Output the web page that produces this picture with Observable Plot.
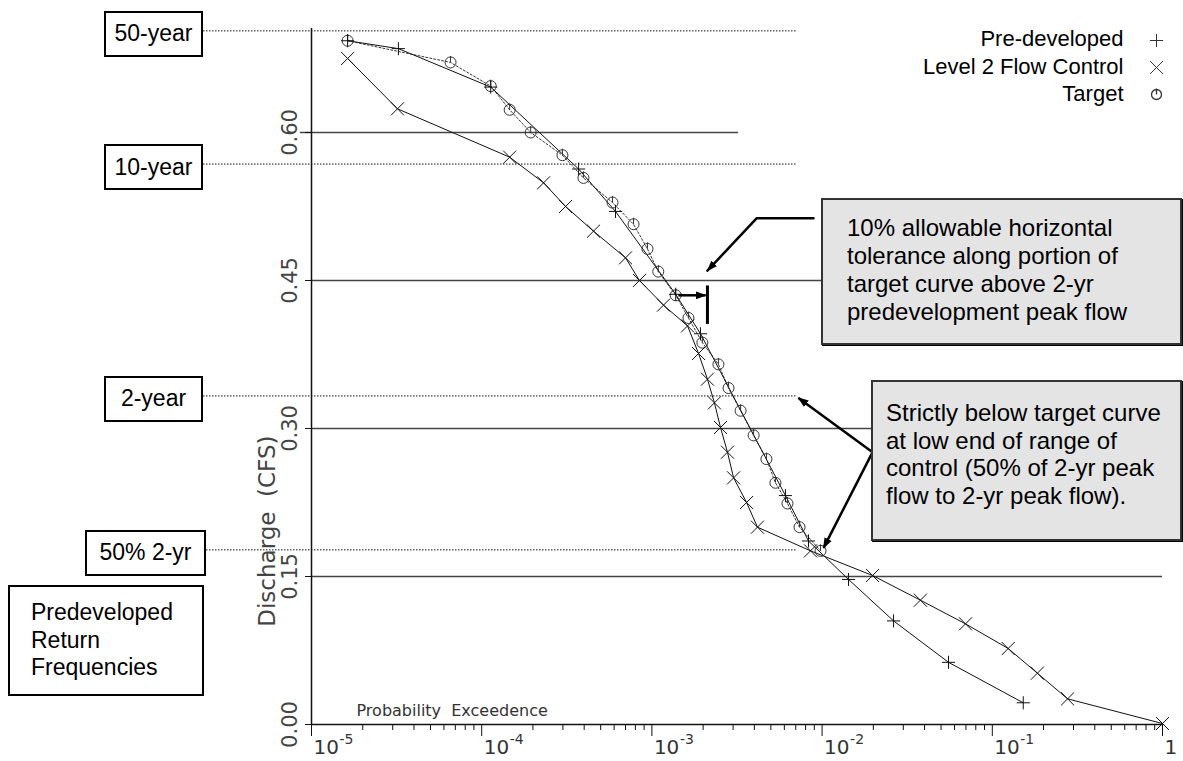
<!DOCTYPE html>
<html>
<head>
<meta charset="utf-8">
<script src="https://cdn.jsdelivr.net/npm/d3@7"></script>
<script src="https://cdn.jsdelivr.net/npm/@observablehq/plot@0.6"></script>
<style>
  html, body { margin: 0; padding: 0; background: #fff; }
  #wrap { position: relative; width: 1183px; height: 761px; overflow: hidden; }
  #wrap svg { position: absolute; left: 0; top: 0; }
  .lbox { position: absolute; box-sizing: border-box; border: 2.5px solid #000; background: #fff;
          font: 23px "Liberation Sans", Arial, sans-serif; color: #000;
          display: flex; align-items: center; justify-content: center; white-space: nowrap; }
  .cbox { position: absolute; box-sizing: border-box; border: 2px solid #333; background: #e4e4e4;
          box-shadow: 1px 1px 0 #000;
          font: 24px "Liberation Sans", Arial, sans-serif; color: #000; white-space: nowrap; }
</style>
</head>
<body>
<div id="wrap"></div>
<script>
// ---- data ----
const seriesNames = ["Pre-developed", "Level 2 Flow Control", "Target"];

const targetP = [1.63e-5, 6.56e-5, 1.13e-4, 1.46e-4, 1.94e-4, 2.98e-4, 3.96e-4, 5.87e-4, 7.80e-4, 9.42e-4,
                 1.09e-3, 1.38e-3, 1.64e-3, 1.98e-3, 2.46e-3, 2.82e-3, 3.32e-3, 3.96e-3, 4.71e-3, 5.32e-3,
                 6.26e-3, 7.37e-3, 9.79e-3];
const targetQ = [0.693, 0.671, 0.647, 0.623, 0.600, 0.577, 0.554, 0.529, 0.507, 0.482,
                 0.459, 0.435, 0.412, 0.387, 0.365, 0.341, 0.318, 0.293, 0.269, 0.245,
                 0.224, 0.200, 0.176];

const predevP = [1.63e-5, 3.24e-5, 1.13e-4, 3.71e-4, 6.11e-4, 1.38e-3, 1.93e-3, 6.09e-3, 8.32e-3,
                 1.43e-2, 2.63e-2, 5.53e-2, 0.152];
const predevQ = [0.693, 0.685, 0.646, 0.563, 0.520, 0.436, 0.396, 0.232, 0.186,
                 0.147, 0.105, 0.063, 0.022];

const level2P = [1.63e-5, 3.20e-5, 1.46e-4, 2.31e-4, 3.11e-4, 4.54e-4, 7.00e-4, 8.45e-4, 1.17e-3, 1.62e-3,
                 1.88e-3, 2.12e-3, 2.33e-3, 2.53e-3, 2.78e-3, 3.02e-3, 3.60e-3, 4.17e-3, 8.55e-3, 1.98e-2,
                 3.78e-2, 6.96e-2, 0.124, 0.184, 0.277, 1];
const level2Q = [0.675, 0.624, 0.575, 0.549, 0.525, 0.500, 0.473, 0.450, 0.425, 0.404,
                 0.376, 0.350, 0.326, 0.301, 0.276, 0.250, 0.225, 0.200, 0.176, 0.151,
                 0.126, 0.102, 0.077, 0.052, 0.026, 0.001];

const returnLabels = ["50-year", "10-year", "2-year", "50% 2-yr"];
const returnLevels = [0.703, 0.568, 0.333, 0.177];

const gridLevels = [0.60, 0.45, 0.30, 0.15];
const gridStartP = [8.6e-6, 1e-5, 1e-5, 1e-5];
const gridEndP   = [3.23e-3, 1, 1, 1];

const xMajor = [1e-5, 1e-4, 1e-3, 1e-2, 1e-1, 1];
const xMajorBase = ["10", "10", "10", "10", "10", "1"];
const xMajorExp = ["-5", "-4", "-3", "-2", "-1", ""];
const yTicks = [0, 0.15, 0.30, 0.45, 0.60];
const yTickLabels = ["0.00", "0.15", "0.30", "0.45", "0.60"];

// annotation anchors (data space)
const callout1Path = [[8.90e-3, 0.513], [4.12e-3, 0.513], [2.12e-3, 0.460]];
const toleranceArrow = {p1: 1.43e-3, p2: 2.07e-3, q: 0.435};
const toleranceBar = {p: 2.12e-3, q1: 0.406, q2: 0.445};
const callout2Arrows = [
  {p1: 1.98e-2, q1: 0.276, p2: 7.26e-3, q2: 0.331},
  {p1: 1.98e-2, q1: 0.276, p2: 1.02e-2, q2: 0.179}
];

// ---- helpers ----
const toRows = (P, Q) => P.map((p, i) => ({p, q: Q[i]}));
const target = toRows(targetP, targetQ);
const predev = toRows(predevP, predevQ);
const level2 = toRows(level2P, level2Q);
const xMinor = d3.range(-5, 0).flatMap(e => d3.range(2, 10).map(m => m * 10 ** e));

const stopwatch = {
  draw(ctx, size) {
    const r = Math.sqrt(size / Math.PI);
    ctx.moveTo(r, 0);
    ctx.arc(0, 0, r, 0, 2 * Math.PI);
    ctx.moveTo(0, -r - 1);
    ctx.lineTo(0, 0);
  }
};

function headMarker(color) {
  const m = d3.create("svg:marker")
    .attr("viewBox", "-5 -5 10 10")
    .attr("refX", 4)
    .attr("markerWidth", 4.4)
    .attr("markerHeight", 4.4)
    .attr("orient", "auto")
    .attr("fill", color)
    .attr("stroke", "none");
  m.append("path").attr("d", "M-5,-3.6L5,0L-5,3.6Z");
  return m.node();
}

const axisFont = "DejaVu Sans, sans-serif";
const legendFont = "Liberation Sans, Arial, sans-serif";

function build(marker) {
  return Plot.plot({
    width: 1183, height: 761,
    marginLeft: 311, marginRight: 21, marginTop: 28, marginBottom: 37,
    x: {type: "log", domain: [1e-5, 1]},
    y: {domain: [0, 0.7054]},
    style: {background: "white", overflow: "visible"},
    marks: [
      // solid reference lines
      Plot.ruleY(gridLevels, {x1: gridStartP, x2: gridEndP, stroke: "#444", strokeWidth: 1.7}),
      // dotted return-frequency lines
      Plot.ruleY(returnLevels, {x1: 2.32e-6, x2: 7.17e-3, stroke: "#111", strokeWidth: 1, strokeDasharray: "1.5,1.5"}),
      // axes
      Plot.ruleX([1e-5], {stroke: "#111", strokeWidth: 1.5}),
      Plot.ruleY([0], {stroke: "#111", strokeWidth: 1.5}),
      Plot.axisX({ticks: xMinor, tickSize: 6, tickFormat: () => "", stroke: "#111"}),
      Plot.axisX({ticks: xMajor, tickSize: 12, tickFormat: () => "", stroke: "#111"}),
      Plot.text(xMajor, {x: d => d, frameAnchor: "bottom", text: (d, i) => xMajorBase[i],
                         textAnchor: "start", lineAnchor: "top", dx: 2, dy: 15,
                         fontSize: 20, fontFamily: axisFont, fill: "#333"}),
      Plot.text(xMajor, {x: d => d, frameAnchor: "bottom", text: (d, i) => xMajorExp[i],
                         textAnchor: "start", lineAnchor: "top", dx: 28, dy: 10,
                         fontSize: 14, fontFamily: axisFont, fill: "#333"}),
      Plot.axisY({ticks: yTicks, tickSize: 6, tickFormat: () => "", stroke: "#111"}),
      Plot.text(yTicks, {x: 1e-5, y: d => d, text: (d, i) => yTickLabels[i], rotate: -90, dx: -21,
                         textAnchor: "middle", lineAnchor: "middle", fontSize: 21, fontFamily: axisFont, fill: "#444"}),
      Plot.text(["Discharge  (CFS)"], {frameAnchor: "left", y: 0.196, dx: -44, rotate: -90,
                         textAnchor: "middle", lineAnchor: "middle", fontSize: 23, fontFamily: axisFont, fill: "#444"}),
      Plot.text(["Probability  Exceedence"], {frameAnchor: "bottom-left", dx: 45, dy: -14,
                         textAnchor: "start", lineAnchor: "middle", fontSize: 16, fontFamily: axisFont, fill: "#333"}),
      // series lines
      Plot.line(target, {x: "p", y: "q", stroke: "#333", strokeWidth: 1, strokeDasharray: "2,2"}),
      Plot.line(predev, {x: "p", y: "q", stroke: "#111", strokeWidth: 1}),
      Plot.line(level2, {x: "p", y: "q", stroke: "#111", strokeWidth: 1}),
      // markers
      Plot.dot(target, {x: "p", y: "q", symbol: stopwatch, r: 5.5, fill: "none", stroke: "#333", strokeWidth: 1}),
      Plot.dot(predev, {x: "p", y: "q", symbol: "plus", r: 4.3, stroke: "#111", strokeWidth: 1}),
      Plot.dot(level2, {x: "p", y: "q", symbol: "times", r: 6, stroke: "#111", strokeWidth: 1}),
      // legend
      Plot.text([seriesNames[0]], {frameAnchor: "top-right", dx: -39, dy: 10, textAnchor: "end", lineAnchor: "middle", fontSize: 22, fontFamily: legendFont, fill: "#000"}),
      Plot.text([seriesNames[1]], {frameAnchor: "top-right", dx: -39, dy: 38, textAnchor: "end", lineAnchor: "middle", fontSize: 22, fontFamily: legendFont, fill: "#000"}),
      Plot.text([seriesNames[2]], {frameAnchor: "top-right", dx: -39, dy: 65, textAnchor: "end", lineAnchor: "middle", fontSize: 22, fontFamily: legendFont, fill: "#000"}),
      Plot.dot([0], {frameAnchor: "top-right", dx: -6, dy: 12, symbol: "plus", r: 4.3, stroke: "#333", strokeWidth: 1}),
      Plot.dot([0], {frameAnchor: "top-right", dx: -6, dy: 39, symbol: "times", r: 6, stroke: "#333", strokeWidth: 1}),
      Plot.dot([0], {frameAnchor: "top-right", dx: -6, dy: 66, symbol: stopwatch, r: 5, fill: "none", stroke: "#333", strokeWidth: 1.3}),
      // annotations
      Plot.line(callout1Path, {x: d => d[0], y: d => d[1], stroke: "#000", strokeWidth: 2.5, markerEnd: marker}),
      Plot.link([toleranceArrow], {x1: "p1", x2: "p2", y1: "q", y2: "q", stroke: "#000", strokeWidth: 2.5, markerEnd: marker}),
      Plot.link([toleranceBar], {x1: "p", x2: "p", y1: "q1", y2: "q2", stroke: "#000", strokeWidth: 3}),
      Plot.link(callout2Arrows, {x1: "p1", y1: "q1", x2: "p2", y2: "q2", stroke: "#000", strokeWidth: 2.5, markerEnd: marker})
    ]
  });
}

let chart;
try { chart = build(headMarker); } catch (e) { chart = build("arrow"); }

const wrap = document.getElementById("wrap");
wrap.appendChild(chart);

// ---- annotation boxes (HTML overlays) ----
const yS = chart.scale("y");
function addBox(cls, html, left, top, width, height, extra) {
  const d = document.createElement("div");
  d.className = cls;
  d.innerHTML = html;
  Object.assign(d.style, {left: left + "px", top: top + "px", width: width + "px", height: height + "px"}, extra || {});
  wrap.appendChild(d);
}
const leftBoxes = [
  {left: 104, width: 99},
  {left: 104, width: 99},
  {left: 104, width: 99},
  {left: 85, width: 121}
];
returnLabels.forEach((lab, i) => {
  const cy = yS.apply(returnLevels[i]) + 3.5;
  addBox("lbox", lab, leftBoxes[i].left, cy - 23, leftBoxes[i].width, 46);
});
addBox("lbox", "Predeveloped<br>Return<br>Frequencies", 8, 585, 196, 111,
       {display: "block", lineHeight: "27.5px", padding: "12px 0 0 21px", textAlign: "left"});
addBox("cbox", "10% allowable horizontal<br>tolerance along portion of<br>target curve above 2-yr<br>predevelopment peak flow",
       821, 198, 361, 147, {lineHeight: "28px", padding: "14px 0 0 24px"});
addBox("cbox", "Strictly below target curve<br>at low end of range of<br>control (50% of 2-yr peak<br>flow to 2-yr peak flow).",
       871, 380, 311, 161, {lineHeight: "27.5px", padding: "17px 0 0 13px"});
</script>
</body>
</html>
